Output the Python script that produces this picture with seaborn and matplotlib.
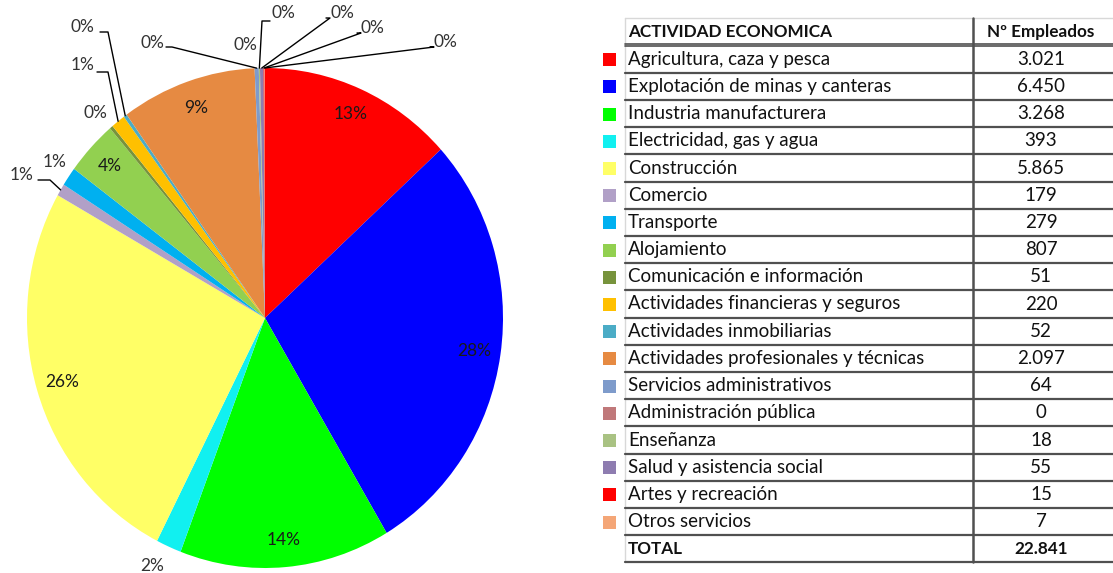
import numpy as np
import matplotlib
matplotlib.use('Agg')
import matplotlib.pyplot as plt
import seaborn as sns

sns.set_theme(style='white')
plt.rcParams['font.family'] = ['Lato', 'DejaVu Sans']

# data
actividades = ['Agricultura, caza y pesca', 'Explotación de minas y canteras',
               'Industria manufacturera', 'Electricidad, gas y agua', 'Construcción',
               'Comercio', 'Transporte', 'Alojamiento', 'Comunicación e información',
               'Actividades financieras y seguros', 'Actividades inmobiliarias',
               'Actividades profesionales y técnicas', 'Servicios administrativos',
               'Administración pública', 'Enseñanza', 'Salud y asistencia social',
               'Artes y recreación', 'Otros servicios']
empleados = [3021, 6450, 3268, 393, 5865, 179, 279, 807, 51, 220, 52, 2097, 64, 0, 18, 55, 15, 7]
colores = ['#FF0000', '#0000FF', '#00FF00', '#11F0F0', '#FFFF66', '#B1A0C7', '#00B0F0',
           '#92D050', '#77933C', '#FFC000', '#4BACC6', '#E68A42', '#7E9BCB', '#C0787A',
           '#A9C283', '#8E7CB0', '#FF0000', '#F4A677']

total = sum(empleados)

# layout of the picture in pixels (1113 x 573)
W, H = 1113, 573
cx, cy, rx, ry = 265, 318, 238, 250

fig = plt.figure(figsize=(W / 100, H / 100), dpi=100)

# ---------------- pie ----------------
ax = fig.add_axes([(cx - rx) / W, (H - cy - ry) / H, 2 * rx / W, 2 * ry / H])
wedges, _ = ax.pie(empleados, colors=colores, startangle=90, counterclock=False,
                   radius=1, wedgeprops=dict(linewidth=0))
ax.set_xlim(-1, 1)
ax.set_ylim(-1, 1)
ax.set_aspect('auto')
ax.axis('off')


def to_data(px, py):
    return (px - cx) / rx, (cy - py) / ry


# labels placed outside (text pos, leader points in pixels)
fuera = {
    3: dict(text=(152, 566), line=None),
    5: dict(text=(22, 175), line=[(50, 180), (38, 180)]),
    6: dict(text=(55, 162), line=None),
    8: dict(text=(95, 113), line=None),
    9: dict(text=(83, 65), line=[(108, 72), (97, 72)]),
    10: dict(text=(82, 27), line=[(108, 32), (100, 32)]),
    12: dict(text=(152, 43), line=[(172, 47), (166, 47)]),
    13: dict(text=(245, 45), line=None),
    14: dict(text=(283, 13), line=[(262, 21), (270, 21)]),
    15: dict(text=(342, 13), line=[(330, 18), (326, 18)]),
    16: dict(text=(372, 28), line=[(361, 33), (357, 33)]),
    17: dict(text=(445, 42), line=[(434, 47), (430, 47)]),
}

for i, w in enumerate(wedges):
    pct = f'{round(empleados[i] / total * 100):.0f}%'
    ang = np.deg2rad((w.theta1 + w.theta2) / 2)
    if i in fuera:
        tx, ty = to_data(*fuera[i]['text'])
        ax.text(tx, ty, pct, ha='center', va='center', fontsize=12.5, color='#333333')
        if fuera[i]['line']:
            pts = [(np.cos(ang), np.sin(ang))] + [to_data(*p) for p in fuera[i]['line']]
            xs, ys = zip(*pts)
            ax.plot(xs, ys, color='black', lw=1, clip_on=False)
    else:
        ax.text(0.89 * np.cos(ang), 0.89 * np.sin(ang), pct, ha='center', va='center',
                fontsize=12.5, color='#1a1a1a')

# ---------------- table ----------------
tb = fig.add_axes([0, 0, 1, 1])
tb.set_xlim(0, W)
tb.set_ylim(H, 0)
tb.axis('off')

x_left, x_div, x_right = 625, 973, W
y_top, row_h = 18, 27.2
y0 = 32
n = len(actividades)
fs = 13.5
line_col = '#505050'

tb.plot([x_left, x_right], [y_top, y_top], color='#d8d8d8', lw=1)
tb.plot([x_left, x_left], [y_top, y0 + (n + 1) * row_h + 13.6], color='#d8d8d8', lw=1)

tb.text(x_left + 3, y0, 'ACTIVIDAD ECONOMICA', fontsize=12.3, fontweight='bold',
        va='center', color='#111111')
tb.text(1041, y0, 'Nº Empleados', fontsize=12.3, fontweight='bold', va='center',
        ha='center', color='#111111')
tb.plot([x_left, x_right], [y0 + 11.5, y0 + 11.5], color=line_col, lw=1.2)
tb.plot([x_left, x_right], [y0 + 14, y0 + 14], color=line_col, lw=1.2)

for k, (act, val, col) in enumerate(zip(actividades, empleados, colores)):
    y = y0 + (k + 1) * row_h
    tb.text(x_left + 3, y, act, fontsize=fs, va='center', color='#111111')
    tb.text(1041, y, f'{val:,}'.replace(',', '.'), fontsize=fs, va='center',
            ha='center', color='#111111')
    tb.add_patch(plt.Rectangle((603, y - 6), 13, 13, color=col, lw=0))
    tb.plot([x_left, x_right], [y + 13.6, y + 13.6], color=line_col, lw=1.6)

y = y0 + (n + 1) * row_h
tb.text(x_left + 3, y, 'TOTAL', fontsize=12.3, fontweight='bold', va='center', color='#111111')
tb.text(1041, y, f'{total:,}'.replace(',', '.'), fontsize=12.3, fontweight='bold',
        va='center', ha='center', color='#111111')
tb.plot([x_left, x_right], [y + 13.6, y + 13.6], color=line_col, lw=1.6)
tb.plot([x_div, x_div], [y_top, y + 13.6], color=line_col, lw=1.8)

fig.savefig('out.png', dpi=100)
